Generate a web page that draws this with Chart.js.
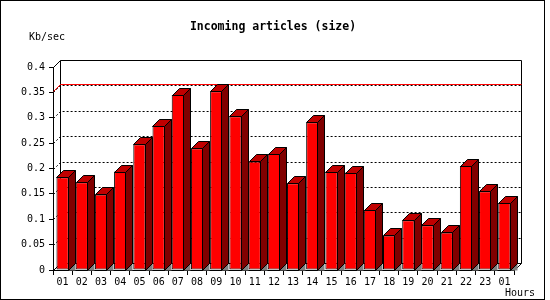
<!DOCTYPE html>
<html>
<head>
<meta charset="utf-8">
<script src="https://cdn.jsdelivr.net/npm/chart.js@4/dist/chart.umd.min.js"></script>
<style>
html,body{margin:0;padding:0;background:#fff;}
canvas{display:block;}
</style>
</head>
<body>
<canvas id="c" width="550" height="300"></canvas>
<script>
// ---- data ----
const hours = ['01','02','03','04','05','06','07','08','09','10','11','12','13','14','15','16','17','18','19','20','21','22','23','01'];
const kbPerSec = [0.183,0.173,0.149,0.194,0.248,0.284,0.345,0.240,0.352,0.303,0.214,0.229,0.171,0.291,0.194,0.192,0.118,0.068,0.098,0.088,0.074,0.205,0.155,0.132];
const yMin = 0, yMax = 0.4, yStep = 0.05;
const gridValues = [0.05,0.1,0.15,0.2,0.25,0.3,0.35];
const peakValue = Math.max(...kbPerSec);
const titleText = 'Incoming articles (size)';
const yUnitText = 'Kb/sec';
const xUnitText = 'Hours';

const DEPTH = 7;
const MONO = '"DejaVu Sans Mono", "Liberation Mono", monospace';

const depthPlugin = {
  id: 'depth3d',
  beforeDatasetsDraw(chart) {
    const ctx = chart.ctx, a = chart.chartArea, ys = chart.scales.y;
    const L = Math.round(a.left) + 0.5, R = Math.round(a.right) + 0.5;
    const T = Math.round(a.top) + 0.5, B = Math.round(a.bottom) + 0.5;
    const D = DEPTH;
    ctx.save();
    ctx.lineWidth = 1;
    // dotted grid on back wall
    ctx.strokeStyle = '#000';
    ctx.setLineDash([2,2]);
    gridValues.forEach(v => {
      const yv = Math.round(ys.getPixelForValue(v)) + 0.5;
      ctx.beginPath();
      ctx.moveTo(L, yv);
      ctx.lineTo(L + D, yv - D);
      ctx.lineTo(R + D, yv - D);
      ctx.stroke();
    });
    ctx.setLineDash([]);
    // back wall frame
    ctx.strokeStyle = '#000';
    ctx.beginPath();
    ctx.moveTo(L, T); ctx.lineTo(L + D, T - D);
    ctx.lineTo(R + D, T - D); ctx.lineTo(R + D, B - D);
    ctx.moveTo(L + D, T - D); ctx.lineTo(L + D, B - D);
    ctx.lineTo(R + D, B - D);
    ctx.moveTo(L, B); ctx.lineTo(L + D, B - D);
    ctx.moveTo(R, B); ctx.lineTo(R + D, B - D);
    ctx.stroke();
    // peak line
    const yp = Math.round(ys.getPixelForValue(peakValue)) + 0.5;
    ctx.strokeStyle = '#ff0000';
    ctx.beginPath();
    ctx.moveTo(L, yp); ctx.lineTo(L + D, yp - D); ctx.lineTo(R + D, yp - D);
    ctx.stroke();
    ctx.restore();
  },
  afterDatasetsDraw(chart) {
    const ctx = chart.ctx, D = DEPTH;
    const meta = chart.getDatasetMeta(0);
    ctx.save();
    ctx.lineWidth = 1;
    ctx.strokeStyle = '#000';
    meta.data.forEach(bar => {
      const p = bar.getProps(['x','y','base','width'], true);
      const xl = Math.round(p.x - p.width / 2) + 0.5;
      const xr = Math.round(p.x + p.width / 2) - 0.5;
      const yt = Math.round(p.y) + 0.5;
      const yb = Math.round(p.base) + 0.5;
      // floor shadow
      ctx.fillStyle = '#808080';
      ctx.beginPath();
      ctx.moveTo(xr, yb); ctx.lineTo(xr + D, yb - D); ctx.lineTo(xr + D, yb); ctx.closePath();
      ctx.fill();
      // side face
      ctx.fillStyle = '#800000';
      ctx.beginPath();
      ctx.moveTo(xr, yt); ctx.lineTo(xr + D, yt - D); ctx.lineTo(xr + D, yb - D); ctx.lineTo(xr, yb); ctx.closePath();
      ctx.fill(); ctx.stroke();
      // top face
      ctx.fillStyle = '#c00000';
      ctx.beginPath();
      ctx.moveTo(xl, yt); ctx.lineTo(xl + D, yt - D); ctx.lineTo(xr + D, yt - D); ctx.lineTo(xr, yt); ctx.closePath();
      ctx.fill(); ctx.stroke();
    });
    ctx.restore();
  },
  afterDraw(chart) {
    const ctx = chart.ctx;
    ctx.save();
    ctx.fillStyle = '#000';
    ctx.textBaseline = 'middle';
    ctx.font = 'bold 11.5px ' + MONO;
    ctx.textAlign = 'center';
    ctx.fillText(titleText, 273, 27);
    ctx.font = '10px ' + MONO;
    ctx.textAlign = 'left';
    ctx.fillText(yUnitText, 29, 37.5);
    ctx.fillText(xUnitText, 505, 293);
    ctx.strokeStyle = '#000';
    ctx.lineWidth = 1;
    ctx.strokeRect(0.5, 0.5, 544, 299);
    ctx.restore();
  }
};

new Chart(document.getElementById('c'), {
  type: 'bar',
  data: {
    labels: hours,
    datasets: [{
      data: kbPerSec,
      backgroundColor: '#ff0000',
      borderColor: '#000000',
      borderWidth: 1,
      borderSkipped: false,
      inflateAmount: 0,
      categoryPercentage: 1,
      barPercentage: 0.64
    }]
  },
  options: {
    responsive: false,
    animation: false,
    events: [],
    layout: { padding: { left: 0, top: 67, right: 36, bottom: 0 } },
    plugins: { legend: { display: false }, title: { display: false }, tooltip: { enabled: false } },
    scales: {
      x: {
        offset: true,
        grid: { display: true, drawOnChartArea: false, drawTicks: true, tickLength: 5, offset: true, color: '#000' },
        border: { display: true, color: '#000' },
        ticks: { color: '#000', font: { family: MONO, size: 10 }, padding: 1, maxRotation: 0, autoSkip: false },
        afterFit(s) { s.height = 30; }
      },
      y: {
        min: yMin, max: yMax,
        grid: { display: true, drawOnChartArea: false, drawTicks: true, tickLength: 4, color: '#000' },
        border: { display: true, color: '#000' },
        ticks: { stepSize: yStep, color: '#000', font: { family: MONO, size: 10 }, padding: 4,
                 callback: v => String(+Number(v).toFixed(2)) },
        afterFit(s) { s.width = 53; }
      }
    }
  },
  plugins: [depthPlugin]
});
</script>
</body>
</html>
